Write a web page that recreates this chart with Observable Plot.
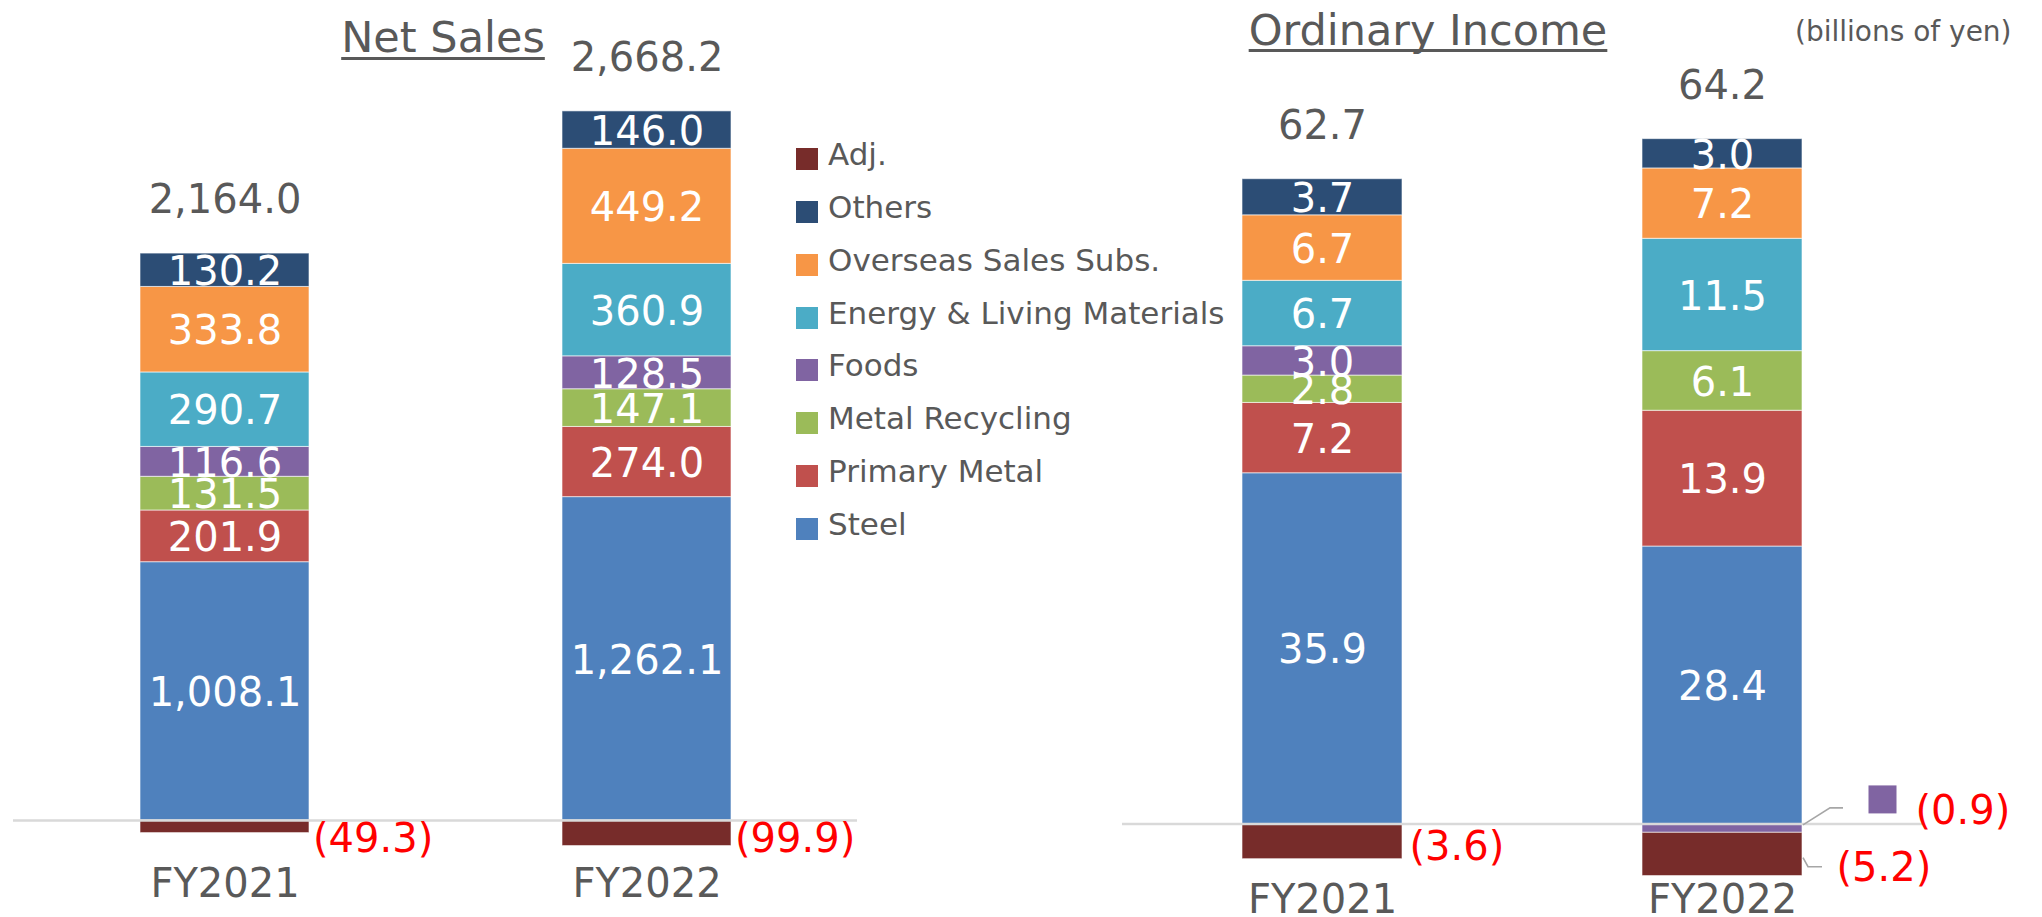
<!DOCTYPE html>
<html>
<head>
<meta charset="utf-8">
<script src="https://cdn.jsdelivr.net/npm/d3@7"></script>
<script src="https://cdn.jsdelivr.net/npm/@observablehq/plot@0.6"></script>
<style>
  html, body { margin: 0; padding: 0; background: #fff; }
  #page { position: relative; width: 2042px; height: 917px; overflow: hidden; font-family: "DejaVu Sans", sans-serif; color: #595959; background: #fff; }
  .abs { position: absolute; }
  #left { left: 0; top: 0; width: 1000px; height: 917px; }
  #right { left: 1000px; top: 0; width: 1042px; height: 917px; }
  .title { font-size: 43px; line-height: 43px; white-space: nowrap; text-decoration: underline; text-decoration-thickness: 3px; text-decoration-skip-ink: none; transform: translateX(-50%); }
  #unit { font-size: 28px; line-height: 28px; white-space: nowrap; }
  #legend { left: 796px; top: 148px; z-index: 5; }
  .lg-row { position: absolute; left: 0; height: 22px; display: flex; align-items: center; white-space: nowrap; }
  .lg-sw { width: 22px; height: 22px; flex: none; }
  .lg-tx { margin-left: 10px; font-size: 31px; line-height: 22px; position: relative; top: -5px; color: #595959; }
  svg { overflow: visible; }
</style>
</head>
<body>
<div id="page">
  <div id="left" class="abs"></div>
  <div id="right" class="abs"></div>
  <div id="t1" class="abs title" style="left:443px; top:16px; text-underline-offset:5px;">Net Sales</div>
  <div id="t2" class="abs title" style="left:1428px; top:9px; text-underline-offset:4px;">Ordinary Income</div>
  <div id="unit" class="abs" style="left:1795px; top:18px;">(billions of yen)</div>
  <div id="legend" class="abs"></div>
</div>
<script>
// ---------------- data ----------------
const categories = ["FY2021", "FY2022"];
const segments = ["Steel", "Primary Metal", "Metal Recycling", "Foods", "Energy & Living Materials", "Overseas Sales Subs.", "Others", "Adj."];
const segmentColors = ["#4F81BD", "#C0504D", "#9BBB59", "#8064A2", "#4BACC6", "#F79646", "#2C4D75", "#772C2A"];

const netSalesFY2021 = [1008.1, 201.9, 131.5, 116.6, 290.7, 333.8, 130.2, -49.3];
const netSalesFY2022 = [1262.1, 274.0, 147.1, 128.5, 360.9, 449.2, 146.0, -99.9];
const netSalesTotals = [2164.0, 2668.2];

const ordIncomeFY2021 = [35.9, 7.2, 2.8, 3.0, 6.7, 6.7, 3.7, -3.6];
const ordIncomeFY2022 = [28.4, 13.9, 6.1, -0.9, 11.5, 7.2, 3.0, -5.2];
const ordIncomeTotals = [62.7, 64.2];

// ---------------- helpers ----------------
const fmt = d3.format(",.1f");
const lab = v => v < 0 ? `(${fmt(-v)})` : fmt(v);
const toRows = series => categories.flatMap((cat, i) => segments.map((seg, j) => ({cat, seg, value: series[i][j]})));
const toTotals = (series, totals) => categories.map((cat, i) => ({
  cat, text: fmt(totals[i]), top: d3.sum(series[i].filter(v => v > 0))
}));
// midpoint of a negative segment within its downward stack
function negMid(series, catIndex, seg) {
  let acc = 0;
  for (let j = 0; j < segments.length; j++) {
    const v = series[catIndex][j];
    if (v < 0) {
      if (segments[j] === seg) return acc + v / 2;
      acc += v;
    }
  }
  return 0;
}
const color = {domain: segments, range: segmentColors};
const FONT = "DejaVu Sans";

// ---------------- Net Sales ----------------
const nsSeries = [netSalesFY2021, netSalesFY2022];
const nsRows = toRows(nsSeries);
const nsTot = toTotals(nsSeries, netSalesTotals);

const left = Plot.plot({
  width: 1000, height: 917,
  marginLeft: 13, marginRight: 143, marginTop: 51.4, marginBottom: 58.6,
  style: {fontFamily: FONT, background: "transparent", overflow: "visible"},
  x: {domain: categories, paddingInner: 0.6, paddingOuter: 0.3, axis: null},
  y: {domain: [-150, 3000], axis: null},
  color,
  marks: [
    Plot.barY(nsRows, Plot.stackY({x: "cat", y: "value", z: "seg", order: segments, fill: "seg", stroke: "white", strokeWidth: 1, strokeOpacity: 0.6})),
    Plot.ruleY([0], {stroke: "#D9D9D9", strokeWidth: 2.5}),
    Plot.text(nsRows, Plot.stackY({filter: d => d.value > 0, x: "cat", y: "value", z: "seg", order: segments, text: d => lab(d.value), fill: "white", fontSize: 40, dy: 2})),
    Plot.text(nsTot, {x: "cat", y: "top", text: "text", fill: "#595959", fontSize: 40, dy: -53}),
    Plot.text(nsRows.filter(d => d.value < 0), {x: "cat", y: () => 0, text: d => lab(d.value), fill: "#FF0000", fontSize: 40, textAnchor: "start", dx: 88, dy: 19}),
    Plot.text(categories, {x: d => d, frameAnchor: "bottom", lineAnchor: "middle", text: d => d, fill: "#595959", fontSize: 40, dy: 25.5})
  ]
});
document.getElementById("left").appendChild(left);

// ---------------- Ordinary Income ----------------
const oiSeries = [ordIncomeFY2021, ordIncomeFY2022];
const oiRows = toRows(oiSeries);
const oiTot = toTotals(oiSeries, ordIncomeTotals);
const foodsMid22 = negMid(oiSeries, 1, "Foods");
const adjMid22 = negMid(oiSeries, 1, "Adj.");
const specialNeg = [
  {cat: "FY2022", y: foodsMid22, text: lab(ordIncomeFY2022[3]), lead: [[1, -3], [28, -20], [41, -20]]},
  {cat: "FY2022", y: adjMid22, text: lab(ordIncomeFY2022[7]), lead: [[1, 0], [6, 9], [20, 9]]}
];
const plainNeg = oiRows.filter(d => d.value < 0 && d.cat === "FY2021");

function leaderLines(items) {
  return (index, scales) => {
    const {x, y} = scales;
    const bw = x.bandwidth ? x.bandwidth() : 160;
    const g = d3.create("svg:g");
    for (const it of items) {
      const x0 = x(it.cat) + bw, y0 = y(it.y);
      const pts = it.lead.map(([dx, dy]) => [x0 + dx, y0 + dy]);
      g.append("path").attr("d", d3.line()(pts)).attr("fill", "none").attr("stroke", "#A6A6A6").attr("stroke-width", 1.6);
    }
    return g.node();
  };
}

const right = Plot.plot({
  width: 1042, height: 917,
  marginLeft: 122, marginRight: 120, marginTop: 90.75, marginBottom: 41.7,
  style: {fontFamily: FONT, background: "transparent", overflow: "visible"},
  x: {domain: categories, paddingInner: 0.6, paddingOuter: 0.3, axis: null},
  y: {domain: [-5.3, 75], axis: null},
  color,
  marks: [
    Plot.barY(oiRows, Plot.stackY({x: "cat", y: "value", z: "seg", order: segments, fill: "seg", stroke: "white", strokeWidth: 1, strokeOpacity: 0.6, clip: true})),
    Plot.ruleY([0], {stroke: "#D9D9D9", strokeWidth: 2.5}),
    Plot.text(oiRows, Plot.stackY({filter: d => d.value > 0, x: "cat", y: "value", z: "seg", order: segments, text: d => lab(d.value), fill: "white", fontSize: 40, dy: 2})),
    Plot.text(oiTot, {x: "cat", y: "top", text: "text", fill: "#595959", fontSize: 40, dy: -53}),
    Plot.text(plainNeg, {x: "cat", y: () => 0, text: d => lab(d.value), fill: "#FF0000", fontSize: 40, textAnchor: "start", dx: 87, dy: 23}),
    leaderLines(specialNeg),
    Plot.text([specialNeg[0]], {x: "cat", y: "y", text: "text", fill: "#FF0000", fontSize: 40, textAnchor: "start", dx: 193, dy: -17}),
    Plot.text([specialNeg[1]], {x: "cat", y: "y", text: "text", fill: "#FF0000", fontSize: 40, textAnchor: "start", dx: 114, dy: 10}),
    Plot.dot([specialNeg[0]], {x: "cat", y: "y", symbol: "square", r: 15.8, fill: segmentColors[3], dx: 160, dy: -29}),
    Plot.text(categories, {x: d => d, frameAnchor: "bottom", lineAnchor: "middle", text: d => d, fill: "#595959", fontSize: 40, dy: 24.5})
  ]
});
document.getElementById("right").appendChild(right);

// ---------------- legend ----------------
const legend = document.getElementById("legend");
segments.slice().reverse().forEach((seg, i) => {
  const row = document.createElement("div");
  row.className = "lg-row";
  row.style.top = (i * 52.86) + "px";
  const sw = document.createElement("div");
  sw.className = "lg-sw";
  sw.style.background = segmentColors[segments.indexOf(seg)];
  const tx = document.createElement("span");
  tx.className = "lg-tx";
  tx.textContent = seg;
  row.appendChild(sw); row.appendChild(tx);
  legend.appendChild(row);
});
</script>
</body>
</html>
